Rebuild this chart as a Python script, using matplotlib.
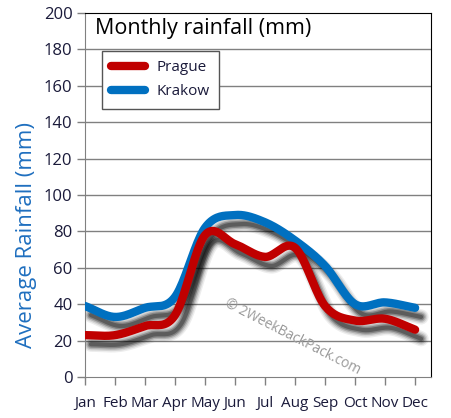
import numpy as np
import matplotlib
matplotlib.use("Agg")
import matplotlib.pyplot as plt
from matplotlib.lines import Line2D

months = ["Jan", "Feb", "Mar", "Apr", "May", "Jun", "Jul", "Aug", "Sep", "Oct", "Nov", "Dec"]
prague = [23, 23, 28, 34, 78, 73, 66, 71, 39, 31, 32, 26]
krakow = [39, 33, 38, 44, 82, 89, 85, 75, 61, 40, 41, 38]
yticks = [0, 20, 40, 60, 80, 100, 120, 140, 160, 180, 200]

plt.rcParams['font.family'] = ['Open Sans', 'DejaVu Sans']


def smooth(y, n=20):
    # Catmull-Rom spline through the data points
    y = np.asarray(y, float)
    p = np.concatenate([[2 * y[0] - y[1]], y, [2 * y[-1] - y[-2]]])
    xs, ys = [], []
    for i in range(len(y) - 1):
        p0, p1, p2, p3 = p[i], p[i + 1], p[i + 2], p[i + 3]
        t = np.linspace(0, 1, n, endpoint=False)
        seg = 0.5 * ((2 * p1) + (-p0 + p2) * t + (2 * p0 - 5 * p1 + 4 * p2 - p3) * t ** 2
                     + (-p0 + 3 * p1 - 3 * p2 + p3) * t ** 3)
        xs.append(i + t)
        ys.append(seg)
    xs.append([len(y) - 1])
    ys.append([y[-1]])
    return np.concatenate(xs), np.concatenate(ys)


fig = plt.figure(figsize=(4.51, 4.18), dpi=100)
ax = fig.add_axes([85 / 451, 41 / 418, 346 / 451, 364 / 418])
ax.set_xlim(0, 11.53)
ax.set_ylim(0, 200)

for yv in yticks[1:-1]:
    ax.axhline(yv, color="#808080", lw=1, zorder=1)

x = np.arange(len(months))
dx, dy = 0.2, -5.0
for series, color in [(krakow, "#0070c0"), (prague, "#c00000")]:
    xs, ys = smooth(series)
    # blurred shadow
    for w, a in [(11, 0.07), (9, 0.10), (7, 0.16), (5, 0.25), (3, 0.3)]:
        ax.plot(xs + dx, ys + dy, color="black", lw=w, alpha=a,
                solid_capstyle="round", zorder=2)

for series, color in [(krakow, "#0070c0"), (prague, "#c00000")]:
    xs, ys = smooth(series)
    ax.plot(xs, ys, color=color, lw=6, solid_capstyle="round", zorder=3)

ax.set_xticks(x)
ax.set_xticklabels(months)
ax.set_yticks(yticks)
ax.tick_params(axis="both", colors="#808080", length=6, width=1, labelcolor="#1a1a3a",
               labelsize=11)
ax.tick_params(axis="y", labelsize=12, pad=3)
ax.tick_params(axis="x", pad=8)

for s in ["left", "bottom"]:
    ax.spines[s].set_color("#808080")
for s in ["top", "right"]:
    ax.spines[s].set_color("black")

ax.set_ylabel("Average Rainfall (mm)", color="#1f6fbf", fontsize=16)
ax.yaxis.set_label_coords(-48 / 346, 0.39)

ax.text(0.03, 0.985, "Monthly rainfall (mm)", transform=ax.transAxes, fontsize=15.5,
        color="black", va="top", ha="left", zorder=5)

handles = [Line2D([], [], color="#c00000", lw=6, solid_capstyle="round"),
           Line2D([], [], color="#0070c0", lw=6, solid_capstyle="round")]
leg = ax.legend(handles, ["Prague", "Krakow"], loc="upper left",
                bbox_to_anchor=(17 / 346, 1 - 38 / 364), fontsize=11, frameon=True,
                fancybox=False, edgecolor="#555555", framealpha=1, handlelength=2.2,
                borderpad=0.6, labelspacing=0.6, borderaxespad=0)
leg.get_frame().set_linewidth(1)
for t in leg.get_texts():
    t.set_color("#1a1a3a")

ax.text(0.6, 0.11, "© 2WeekBackPack.com", transform=ax.transAxes, rotation=-27,
        fontsize=10, color="#999999", ha="center", va="center", zorder=4)

fig.savefig("out.png", dpi=100)
